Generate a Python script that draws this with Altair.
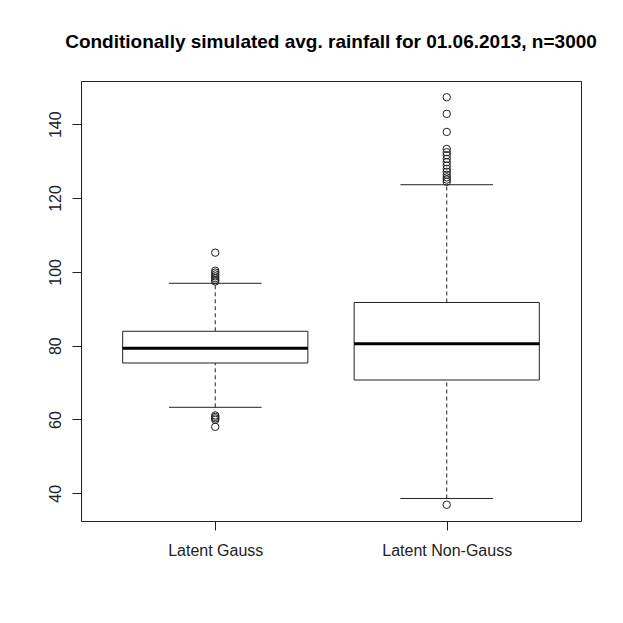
import altair as alt
import pandas as pd

# ---- data ----
groups = ["Latent Gauss", "Latent Non-Gauss"]
positions = [1, 2]
q1 = [75.3, 70.7]
median = [79.3, 80.5]
q3 = [83.9, 91.7]
whisker_low = [63.3, 38.6]
whisker_high = [96.9, 123.6]

outliers_gauss = [105.2, 100.3, 99.8, 99.3, 98.8, 98.3, 97.8, 97.4,
                  61.1, 60.7, 60.3, 59.9, 58.0]
outliers_nongauss = [147.3, 142.8, 137.9, 133.3, 132.4, 131.6, 130.6, 129.7,
                     128.8, 127.9, 127.1, 126.3, 125.6, 125.0, 124.4, 36.9]

y_ticks = [40, 60, 80, 100, 120, 140]
title_text = "Conditionally simulated avg. rainfall for 01.06.2013, n=3000"

# ---- tables ----
box_df = pd.DataFrame({
    "group": groups, "pos": positions, "q1": q1, "median": median,
    "q3": q3, "wlo": whisker_low, "whi": whisker_high,
})
out_df = pd.DataFrame({
    "pos": [positions[0]] * len(outliers_gauss) + [positions[1]] * len(outliers_nongauss),
    "value": outliers_gauss + outliers_nongauss,
})

FONT = "Liberation Sans"
INK = "#222222"
x_scale = alt.Scale(domain=[0.42, 2.58], nice=False, zero=False)
y_scale = alt.Scale(domain=[32.5, 151.7], nice=False, zero=False)

label_expr = "[" + ", ".join("'" + g + "'" for g in groups) + "][datum.value - 1]"
x_axis = alt.Axis(values=positions, labelExpr=label_expr, title=None, grid=False,
                  domain=False, tickSize=9, tickColor=INK, labelColor=INK,
                  labelFont=FONT, labelFontSize=16, labelPadding=12)
y_axis = alt.Axis(values=y_ticks, title=None, grid=False, domain=False,
                  tickSize=9, tickColor=INK, labelColor=INK,
                  labelFont=FONT, labelFontSize=16, labelAngle=270,
                  labelAlign="center", labelBaseline="bottom", labelPadding=9)

def X(f):
    return alt.X(f, type="quantitative", scale=x_scale, axis=x_axis)

def Y(f):
    return alt.Y(f, type="quantitative", scale=y_scale, axis=y_axis)

base = alt.Chart(box_df).transform_calculate(
    left="datum.pos - 0.4", right="datum.pos + 0.4",
    capl="datum.pos - 0.2", capr="datum.pos + 0.2",
)

whisk_hi = base.mark_rule(color=INK, strokeWidth=1, strokeDash=[4, 3]).encode(
    x=X("pos"), y=Y("q3"), y2="whi:Q")
whisk_lo = base.mark_rule(color=INK, strokeWidth=1, strokeDash=[4, 3]).encode(
    x=X("pos"), y=Y("wlo"), y2="q1:Q")
cap_hi = base.mark_rule(color=INK, strokeWidth=1).encode(
    x=X("capl"), x2="capr:Q", y=Y("whi"))
cap_lo = base.mark_rule(color=INK, strokeWidth=1).encode(
    x=X("capl"), x2="capr:Q", y=Y("wlo"))
box = base.mark_rect(fill="white", stroke=INK, strokeWidth=1).encode(
    x=X("left"), x2="right:Q", y=Y("q1"), y2="q3:Q")
med = base.mark_rule(color="black", strokeWidth=3).encode(
    x=X("left"), x2="right:Q", y=Y("median"))
pts = alt.Chart(out_df).mark_point(shape="circle", filled=False, size=55,
                                   color=INK, strokeWidth=1, opacity=1).encode(
    x=X("pos"), y=Y("value"))

chart = alt.layer(whisk_hi, whisk_lo, cap_hi, cap_lo, box, med, pts).properties(
    width=500, height=440,
    background="white",
    title=alt.TitleParams(title_text, font=FONT, fontSize=19, fontWeight="bold",
                          color="black", anchor="middle", offset=29),
    autosize=alt.AutoSizeParams(type="none"),
    padding={"left": 73, "top": 73, "right": 34, "bottom": 94},
).configure_view(stroke=INK, strokeWidth=1)

chart.save("out.html", embed_options={"renderer": "svg", "actions": False})
